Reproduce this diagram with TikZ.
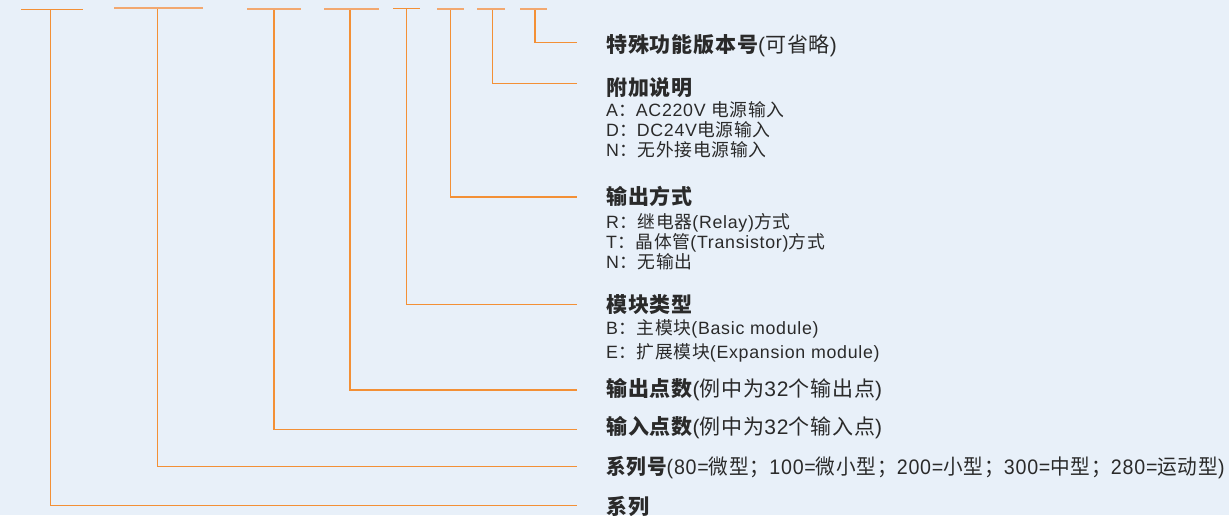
\documentclass[tikz,border=0pt]{standalone}
\usepackage{fontspec}
\setmainfont{Liberation Sans}[LetterSpace=4]
\newfontfamily\zhfont{Noto Sans CJK SC}[LetterSpace=4]
\newcommand\zh[1]{{\zhfont #1}}
\definecolor{bg}{HTML}{E8F0F9}
\definecolor{txt}{HTML}{2A2A2A}
\definecolor{lineor}{HTML}{F39036}
\definecolor{baror}{HTML}{F2A870}
\tikzset{
  head/.style={anchor=base west, inner sep=0pt, text=txt, font=\fontsize{21}{21}\selectfont},
  sub/.style={anchor=base west, inner sep=0pt, text=txt, font=\fontsize{17.8}{17.8}\selectfont},
  lead/.style={draw=lineor, line width=1.3pt},
  bar/.style={draw=baror, line width=1.7pt},
  darkbar/.style={draw=lineor, line width=1.3pt}
}
\begin{document}
\begin{tikzpicture}[x=1pt,y=-1pt]
\fill[bg] (0,0) rectangle (1229,515);
\useasboundingbox (0,0) rectangle (1229,515);
% bars
\coordinate (b1l) at (21.3,9.3); \coordinate (b1r) at (82.7,9.3); \coordinate (b1) at (50.3,9.3);
\coordinate (b2l) at (114.3,8.3); \coordinate (b2r) at (202.7,8.3); \coordinate (b2) at (157.3,8.3);
\coordinate (b3l) at (247.3,9); \coordinate (b3r) at (301,9); \coordinate (b3) at (274,9);
\coordinate (b4l) at (324,9); \coordinate (b4r) at (379,9); \coordinate (b4) at (350,9);
\coordinate (b5l) at (393,8.5); \coordinate (b5r) at (420,8.5); \coordinate (b5) at (406.3,8.5);
\coordinate (b6l) at (437,9); \coordinate (b6r) at (464,9); \coordinate (b6) at (450.7,9);
\coordinate (b7l) at (477.3,9); \coordinate (b7r) at (505,9); \coordinate (b7) at (492.7,9);
\coordinate (b8l) at (520,9); \coordinate (b8r) at (547,9); \coordinate (b8) at (535,9);
% lead ends
\coordinate (e1) at (577,505.3);
\coordinate (e2) at (577,466.7);
\coordinate (e3) at (577,429.7);
\coordinate (e4) at (577,390);
\coordinate (e5) at (577,304.3);
\coordinate (e6) at (577,197);
\coordinate (e7) at (577,83.3);
\coordinate (e8) at (577,42.3);
\draw[lead] (b1) |- (e1);
\draw[lead] (b2) |- (e2);
\draw[lead] (b3) |- (e3);
\draw[lead] (b4) |- (e4);
\draw[lead] (b5) |- (e5);
\draw[lead] (b6) |- (e6);
\draw[lead] (b7) |- (e7);
\draw[lead] (b8) |- (e8);
\draw[darkbar] (b1l) -- (b1r);
\draw[bar] (b2l) -- (b2r);
\draw[bar] (b3l) -- (b3r);
\draw[bar] (b4l) -- (b4r);
\draw[darkbar] (b5l) -- (b5r);
\draw[bar] (b6l) -- (b6r);
\draw[bar] (b7l) -- (b7r);
\draw[bar] (b8l) -- (b8r);
% texts
\node[head] (n8) at (606,52.3) {\zh{\bfseries 特殊功能版本号}(\zh{可省略})};
\node[head] (n7) at (606,95.3) {\zh{\bfseries 附加说明}};
\node[sub] (a1) at (606,116.6) {A\zh{：}AC220V \zh{电源输入}};
\node[sub] (a2) at (606,136.6) {D\zh{：}DC24V\zh{电源输入}};
\node[sub] (a3) at (606,156.6) {N\zh{：无外接电源输入}};
\node[head] (n6) at (606,204.3) {\zh{\bfseries 输出方式}};
\node[sub] (o1) at (606,228.3) {R\zh{：继电器}(Relay)\zh{方式}};
\node[sub] (o2) at (606,248.3) {T\zh{：晶体管}(Transistor)\zh{方式}};
\node[sub] (o3) at (606,268.3) {N\zh{：无输出}};
\node[head] (n5) at (606,312.3) {\zh{\bfseries 模块类型}};
\node[sub] (m1) at (606,334.6) {B\zh{：主模块}(Basic module)};
\node[sub] (m2) at (606,358.3) {E\zh{：扩展模块}(Expansion module)};
\node[head] (n4) at (606,396.1) {\zh{\bfseries 输出点数}(\zh{例中为}32\zh{个输出点})};
\node[head] (n3) at (606,434.9) {\zh{\bfseries 输入点数}(\zh{例中为}32\zh{个输入点})};
\node[head] (n2) at (606,474.2) {\scalebox{0.935}[1]{\zh{\bfseries 系列号}(80=\zh{微型；}100=\zh{微小型；}200=\zh{小型；}300=\zh{中型；}280=\zh{运动型})}};
\node[head] (n1) at (606,514.5) {\zh{\bfseries 系列}};
\end{tikzpicture}
\end{document}
